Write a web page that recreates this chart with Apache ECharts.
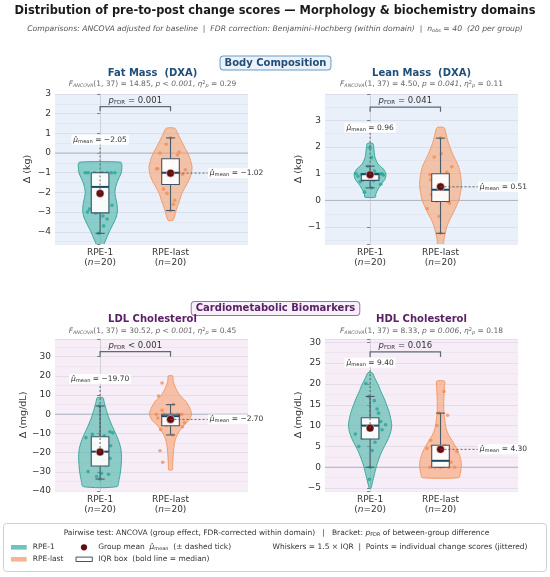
<!DOCTYPE html>
<html><head><meta charset="utf-8">
<script src="https://cdn.jsdelivr.net/npm/echarts@6.0.0/dist/echarts.min.js"></script>
<style>html,body{margin:0;padding:0;background:#fff}#c{width:550px;height:577px}</style>
</head><body><div id="c"></div>
<script>
// ---------------- DATA ----------------
const categories = ['RPE-1', 'RPE-last'];
const groupN = [20, 20];
const panelTitles = ['Fat Mass  (DXA)', 'Lean Mass  (DXA)', 'LDL Cholesterol', 'HDL Cholesterol'];
const yUnits = ['Δ (kg)', 'Δ (kg)', 'Δ (mg/dL)', 'Δ (mg/dL)'];
const domains = ['Body Composition', 'Cardiometabolic Biomarkers'];
const yMin = [-4.62, -1.63, -40, -5.7];
const yMax = [3.0, 3.98, 39.2, 30.8];
const yTickStep = [1, 1, 10, 5];
const fStat = ['14.85', '4.50', '30.52', '8.33'];
const pText = ['< 0.001', '= 0.041', '< 0.001', '= 0.006'];
const etaSq = ['0.29', '0.11', '0.45', '0.18'];
const pFdrText = ['= 0.001', '= 0.041', '< 0.001', '= 0.016'];
const nObs = 40;

// individual change scores (per group)
const fmRpe1 = [-4.08, -3.7, -3.35, -3.2, -3.05, -3.0, -2.85, -2.65, -2.3, -1.9, -1.55, -1.3, -1.1, -1.0, -1.0, -1.0, -1.0, -1.0, -1.0, -1.0];
const fmRpeLast = [-2.92, -2.6, -2.4, -2.05, -1.82, -1.55, -1.2, -1.1, -1.08, -1.0, -1.0, -0.85, -0.8, -0.8, -0.35, -0.1, 0.0, 0.05, 0.45, 0.77];
const lmRpe1 = [0.31, 0.47, 0.6, 0.7, 0.74, 0.76, 0.85, 0.9, 0.95, 0.97, 0.99, 1.0, 1.0, 1.0, 1.0, 1.0, 1.1, 1.28, 1.6, 1.97];
const lmRpeLast = [-1.23, -0.6, -0.31, -0.1, -0.05, -0.03, 0.1, 0.15, 0.22, 0.35, 0.45, 0.6, 0.77, 0.9, 0.96, 1.05, 1.26, 1.62, 1.75, 2.33];
const ldlRpe1 = [-33.8, -32.5, -31.3, -30.8, -29.9, -26.4, -25.5, -24.0, -23.0, -21.0, -18.0, -17.5, -16.4, -15.5, -12.2, -11.2, -10.5, -9.7, -9.1, 4.3];
const ldlRpeLast = [-25.0, -19.0, -10.8, -8.0, -6.5, -5.8, -4.5, -3.5, -2.0, -1.5, -0.4, 0.0, 0.0, 0.0, 0.0, 0.0, 2.0, 5.2, 9.5, 16.3];
const hdlRpe1 = [-2.9, 0.0, 4.0, 5.0, 6.0, 7.0, 7.5, 8.0, 9.0, 9.8, 10.2, 10.5, 11.0, 11.3, 11.5, 13.0, 14.0, 16.0, 17.0, 20.1];
const hdlRpeLast = [0, 0, 0, 0, 0, 0.5, 1.0, 1.2, 1.4, 1.5, 1.6, 3.8, 4.5, 5.0, 5.3, 6.5, 10.0, 12.5, 13.0, 18.2];

// horizontal jitter of each point (category units)
const fmRpe1Jit = [-0.02, 0.05, 0.1, 0.04, -0.06, -0.18, -0.15, 0.17, 0.02, -0.05, 0.08, -0.03, 0.06, -0.21, -0.17, 0.16, 0.21, -0.08, 0.03, 0.1];
const fmRpeLastJit = [0.0, 0.04, 0.06, -0.05, -0.1, 0.07, -0.04, 0.09, 0.17, 0.02, -0.08, 0.21, -0.2, -0.18, 0.05, 0.1, -0.15, 0.12, -0.06, 0.0];
const lmRpe1Jit = [-0.08, 0.02, 0.15, -0.14, 0.05, -0.1, 0.12, -0.17, 0.19, -0.12, 0.14, -0.05, 0.03, 0.09, -0.2, 0.17, 0.06, -0.03, 0.02, 0.0];
const lmRpeLastJit = [0.0, -0.02, -0.19, 0.13, 0.11, -0.05, 0.04, -0.08, -0.13, 0.07, 0.02, 0.1, -0.14, 0.06, -0.15, 0.09, 0.16, -0.09, 0.01, 0.0];
const ldlRpe1Jit = [0.0, -0.05, 0.12, 0.02, -0.17, 0.08, -0.1, 0.05, 0.14, -0.06, 0.1, -0.03, 0.15, -0.08, -0.2, 0.06, -0.11, 0.18, 0.14, -0.01];
const ldlRpeLastJit = [-0.11, -0.15, 0.03, -0.14, 0.17, -0.06, 0.2, 0.08, -0.18, 0.05, 0.13, -0.09, 0.02, -0.2, 0.1, 0.16, -0.12, 0.04, -0.17, -0.12];
const hdlRpe1Jit = [-0.01, 0.0, 0.03, -0.16, 0.07, -0.11, 0.05, -0.21, 0.17, -0.04, 0.22, 0.1, 0.15, -0.08, 0.04, 0.12, 0.1, 0.06, -0.02, -0.06];
const hdlRpeLastJit = [0.0, -0.15, 0.12, 0.2, -0.08, 0.05, -0.1, 0.15, 0.03, -0.05, 0.09, 0.23, -0.19, -0.12, 0.06, -0.14, -0.05, 0.1, -0.02, 0.05];

// box statistics: [whisker low, Q1, median, Q3, whisker high]
const fmBox = [[-4.08, -3.04, -1.72, -1.0, -1.0], [-2.92, -1.6, -1.0, -0.29, 0.77]];
const lmBox = [[0.47, 0.75, 0.98, 1.0, 1.28], [-1.23, -0.04, 0.4, 1.0, 2.33]];
const ldlBox = [[-33.8, -27.0, -19.5, -11.7, 4.3], [-10.8, -6.0, -1.0, 0.0, 5.0]];
const hdlBox = [[0.0, 6.8, 10.0, 11.9, 17.0], [0.0, 0.0, 1.55, 5.3, 13.0]];

// group means
const fmMean = [-2.05, -1.02];
const lmMean = [0.96, 0.51];
const ldlMean = [-19.70, -2.70];
const hdlMean = [9.40, 4.30];

// violin density profiles: [value, half-width in category units]
const fmViolin1 = [[-0.46, 0.29], [-0.6, 0.31], [-1.0, 0.3], [-1.25, 0.27], [-1.5, 0.24], [-1.75, 0.22], [-2.0, 0.21], [-2.25, 0.22], [-2.5, 0.235], [-2.75, 0.245], [-3.0, 0.245], [-3.25, 0.23], [-3.5, 0.2], [-3.75, 0.165], [-4.0, 0.13], [-4.25, 0.1], [-4.5, 0.07], [-4.75, 0.04], [-4.9, 0.02]];
const fmViolin2 = [[1.26, 0.06], [0.97, 0.105], [0.64, 0.15], [0.3, 0.2], [-0.04, 0.25], [-0.38, 0.285], [-0.71, 0.305], [-1.05, 0.295], [-1.39, 0.26], [-1.72, 0.21], [-2.06, 0.16], [-2.4, 0.13], [-2.74, 0.095], [-3.07, 0.067], [-3.41, 0.035]];
const lmViolin1 = [[2.13, 0.04], [1.97, 0.052], [1.61, 0.07], [1.36, 0.113], [1.17, 0.19], [0.98, 0.226], [0.79, 0.21], [0.6, 0.156], [0.42, 0.113], [0.23, 0.08], [0.12, 0.075]];
const lmViolin2 = [[2.72, 0.05], [2.47, 0.08], [2.22, 0.104], [1.97, 0.137], [1.72, 0.175], [1.48, 0.22], [1.23, 0.26], [0.98, 0.283], [0.73, 0.295], [0.48, 0.295], [0.24, 0.28], [0.0, 0.26], [-0.25, 0.22], [-0.5, 0.175], [-0.74, 0.127], [-0.99, 0.09], [-1.24, 0.066], [-1.48, 0.047], [-1.65, 0.04]];
const ldlViolin1 = [[8.6, 0.04], [6, 0.06], [2, 0.09], [-2, 0.125], [-6, 0.17], [-10, 0.22], [-14, 0.265], [-18, 0.295], [-22, 0.305], [-26, 0.3], [-30, 0.29], [-34, 0.27], [-37.7, 0.24]];
const ldlViolin2 = [[20, 0.03], [17, 0.04], [13.5, 0.075], [10, 0.13], [6.6, 0.22], [3.1, 0.275], [0, 0.298], [-3, 0.265], [-5.5, 0.195], [-9, 0.123], [-12.5, 0.075], [-16, 0.052], [-21.2, 0.038], [-26.4, 0.03], [-29, 0.025]];
const hdlViolin1 = [[22.7, 0.03], [21.3, 0.07], [19.7, 0.118], [18.1, 0.156], [16.5, 0.2], [14.9, 0.236], [13.3, 0.27], [11.7, 0.293], [10.1, 0.307], [8.5, 0.293], [6.9, 0.26], [5.3, 0.212], [3.7, 0.165], [2.1, 0.127], [0.5, 0.095], [-1.1, 0.07], [-2.7, 0.047], [-4.3, 0.024], [-5.1, 0.01]];
const hdlViolin2 = [[20.7, 0.055], [19.7, 0.057], [16.5, 0.047], [13.3, 0.047], [11.7, 0.057], [9.3, 0.08], [7.7, 0.118], [6.1, 0.175], [4.5, 0.23], [2.9, 0.27], [1.3, 0.293], [-0.3, 0.293], [-1.5, 0.28], [-2.5, 0.26]];

// ---------------- LAYOUT / STYLE ----------------
const values = [[fmRpe1, fmRpeLast], [lmRpe1, lmRpeLast], [ldlRpe1, ldlRpeLast], [hdlRpe1, hdlRpeLast]];
const jitter = [[fmRpe1Jit, fmRpeLastJit], [lmRpe1Jit, lmRpeLastJit], [ldlRpe1Jit, ldlRpeLastJit], [hdlRpe1Jit, hdlRpeLastJit]];
const boxes = [fmBox, lmBox, ldlBox, hdlBox];
const means = [fmMean, lmMean, ldlMean, hdlMean];
const violins = [[fmViolin1, fmViolin2], [lmViolin1, lmViolin2], [ldlViolin1, ldlViolin2], [hdlViolin1, hdlViolin2]];

const FF = "'DejaVu Sans', sans-serif";
const X_MIN = -0.64, X_MAX = 2.1;
const BOX_HALF = 0.125, CAP_HALF = 0.065;
const grids = [
  {left: 55, top: 94, width: 193, height: 150},
  {left: 325, top: 94, width: 193, height: 150},
  {left: 55, top: 339, width: 193, height: 152},
  {left: 325, top: 339, width: 193, height: 152}
];
const gridBg = ['#eaf0fa', '#eaf0fa', '#f6edf6', '#f6edf6'];
const nameGaps = [22, 20, 26, 21];
const annotAboveY = [0.67, 2.72, 18.4, 25.1];
const annotRightX = 1.53;
const bracketBarY = [2.36, 3.49, 32.6, 27.7];
const bracketLegY = [2.12, 3.32, 30.0, 26.5];
const titleColors = ['#1f4e79', '#5b2168'];
const violinFill = ['rgba(66,180,166,0.58)', 'rgba(247,158,108,0.58)'];
const violinEdge = ['#3aa99b', '#f29c68'];
const pointColor = ['#22a193', '#f08a50'];
const MEAN_COLOR = '#650d0d';

const minus = s => s.replace(/-/g, '\u2212');
const fmtNum = v => (v < 0 ? '\u2212' : '') + Math.abs(v).toFixed(2);

function zeroRender(params, api) {
  const a = api.coord([X_MIN, 0]), b = api.coord([X_MAX, 0]);
  return {type: 'line', shape: {x1: a[0], y1: a[1], x2: b[0], y2: b[1]}, style: {stroke: '#aeb5c2', lineWidth: 1}};
}
function violinRender(p) {
  return function (params, api) {
    const g = api.value(0);
    const prof = violins[p][g];
    const right = prof.map(d => api.coord([g + d[1], d[0]]));
    const left = prof.slice().reverse().map(d => api.coord([g - d[1], d[0]]));
    return {type: 'polygon', shape: {points: right.concat(left), smooth: 0.25},
      style: {fill: violinFill[g], stroke: violinEdge[g], lineWidth: 1}};
  };
}
function boxRender(p) {
  return function (params, api) {
    const g = api.value(0);
    const s = boxes[p][g];
    const c = (x, y) => api.coord([x, y]);
    const ln = (p1, p2, st) => ({type: 'line', shape: {x1: p1[0], y1: p1[1], x2: p2[0], y2: p2[1]}, style: st});
    const ws = {stroke: '#4b5a68', lineWidth: 1.1};
    const a = c(g - BOX_HALF, s[3]), b = c(g + BOX_HALF, s[1]);
    return {type: 'group', children: [
      ln(c(g, s[0]), c(g, s[1]), ws),
      ln(c(g, s[3]), c(g, s[4]), ws),
      ln(c(g - CAP_HALF, s[0]), c(g + CAP_HALF, s[0]), ws),
      ln(c(g - CAP_HALF, s[4]), c(g + CAP_HALF, s[4]), ws),
      {type: 'rect', shape: {x: a[0], y: a[1], width: b[0] - a[0], height: b[1] - a[1]},
        style: {fill: 'rgba(255,255,255,0.93)', stroke: '#3e5567', lineWidth: 1.1}},
      ln(c(g - BOX_HALF, s[2]), c(g + BOX_HALF, s[2]), {stroke: '#1b4965', lineWidth: 2})
    ]};
  };
}
const muRich = {
  m: {fontSize: 7.5, fontStyle: 'italic', fontFamily: FF, fill: '#333'},
  s: {fontSize: 5.2, fontFamily: FF, fill: '#333', verticalAlign: 'bottom'}
};
function annotRender(p) {
  return function (params, api) {
    const m = means[p];
    const dash = {stroke: '#555', lineWidth: 0.9, lineDash: [2, 2]};
    const a0 = api.coord([0, m[0]]), a1 = api.coord([0, annotAboveY[p]]);
    const b0 = api.coord([1, m[1]]), b1 = api.coord([annotRightX, m[1]]);
    const lbl = (pt, v, align) => ({type: 'text', z2: 10, style: {
      x: pt[0], y: pt[1], text: '{m|μ\u0302}{s|mean} = ' + fmtNum(v), rich: muRich,
      fontSize: 7.5, fontFamily: FF, fill: '#333', align: align, verticalAlign: 'middle',
      backgroundColor: 'rgba(255,255,255,0.92)', padding: [1, 2, 1, 2]}});
    return {type: 'group', children: [
      {type: 'line', shape: {x1: a0[0], y1: a0[1], x2: a1[0], y2: a1[1]}, style: dash},
      {type: 'line', shape: {x1: b0[0], y1: b0[1], x2: b1[0], y2: b1[1]}, style: dash},
      lbl(a1, m[0], 'center'),
      lbl(b1, m[1], 'left')
    ]};
  };
}
function bracketRender(p) {
  return function (params, api) {
    const l0 = api.coord([0, bracketLegY[p]]), l1 = api.coord([0, bracketBarY[p]]);
    const r1 = api.coord([1, bracketBarY[p]]), r0 = api.coord([1, bracketLegY[p]]);
    const mid = api.coord([0.5, bracketBarY[p]]);
    return {type: 'group', children: [
      {type: 'polyline', shape: {points: [l0, l1, r1, r0]}, style: {stroke: '#5d6975', lineWidth: 1.2, fill: null}},
      {type: 'text', style: {x: mid[0], y: mid[1] - 1.5, align: 'center', verticalAlign: 'bottom',
        text: '{p|p}{s|FDR} ' + pFdrText[p], fontSize: 8.5, fontFamily: FF, fill: '#333',
        rich: {p: {fontSize: 8.5, fontStyle: 'italic', fontFamily: FF, fill: '#333'},
               s: {fontSize: 5.5, fontFamily: FF, fill: '#333', verticalAlign: 'bottom'}}}}
    ]};
  };
}

const xAxes = [], yAxes = [], series = [];
grids.forEach((gr, p) => {
  xAxes.push({type: 'value', gridIndex: p, min: X_MIN, max: X_MAX, minInterval: 1, maxInterval: 1,
    axisLine: {show: false}, axisTick: {show: false}, splitLine: {show: false},
    axisLabel: {fontSize: 9, color: '#333', fontFamily: FF, lineHeight: 10.5, margin: 3,
      showMinLabel: false, showMaxLabel: false,
      formatter: v => {
        const g = Math.round(v);
        if (Math.abs(v - g) < 1e-6 && g >= 0 && g < categories.length) return categories[g] + '\n({i|n}=' + groupN[g] + ')';
        return '';
      },
      rich: {i: {fontStyle: 'italic', fontSize: 9, color: '#333', fontFamily: FF, lineHeight: 10.5}}}});
  const step = yTickStep[p];
  yAxes.push({type: 'value', gridIndex: p, min: yMin[p], max: yMax[p], minInterval: step, maxInterval: step,
    name: yUnits[p], nameLocation: 'middle', nameGap: nameGaps[p],
    nameTextStyle: {fontSize: 9.5, color: '#333', fontFamily: FF},
    axisLine: {show: true, lineStyle: {color: '#c4c9d2', width: 0.8}},
    axisTick: {show: true, length: 3, lineStyle: {color: '#666', width: 0.8}},
    axisLabel: {fontSize: 9, color: '#333', fontFamily: FF, margin: 4,
      formatter: v => (Math.abs(v / step - Math.round(v / step)) < 1e-6 ? minus(String(Math.round(v))) : '')},
    splitLine: {show: true, lineStyle: {color: 'rgba(130,140,165,0.2)', width: 0.8}},
    minorTick: {show: false, splitNumber: 2},
    minorSplitLine: {show: true, lineStyle: {color: 'rgba(130,140,165,0.11)', width: 0.7}}});
  const ax = {xAxisIndex: p, yAxisIndex: p};
  series.push({type: 'custom', ...ax, z: 1, silent: true, clip: true, data: [[0, 0]], renderItem: zeroRender});
  series.push({type: 'custom', ...ax, z: 2, silent: true, clip: true, data: [[0, 0], [1, 0]], renderItem: violinRender(p)});
  [0, 1].forEach(g => series.push({type: 'scatter', ...ax, z: 3, silent: true, symbolSize: 3.6,
    itemStyle: {color: pointColor[g], opacity: 0.75},
    data: values[p][g].map((v, i) => [g + jitter[p][g][i], v])}));
  series.push({type: 'custom', ...ax, z: 4, silent: true, data: [[0, 0], [1, 0]], renderItem: boxRender(p)});
  series.push({type: 'scatter', ...ax, z: 5, silent: true, symbolSize: 8,
    itemStyle: {color: MEAN_COLOR, borderColor: '#fff', borderWidth: 0.5, opacity: 1},
    data: means[p].map((m, g) => [g, m])});
  series.push({type: 'custom', ...ax, z: 6, silent: true, clip: false, data: [[0, 0]], renderItem: annotRender(p)});
  series.push({type: 'custom', ...ax, z: 6, silent: true, clip: false, data: [[0, 0]], renderItem: bracketRender(p)});
});

// texts
const statRich = {
  i: {fontStyle: 'italic', fontSize: 7.5, fontFamily: FF, fill: '#666'},
  s: {fontStyle: 'italic', fontSize: 4.8, fontFamily: FF, fill: '#666', verticalAlign: 'bottom'},
  u: {fontSize: 5, fontFamily: FF, fill: '#666', verticalAlign: 'top'},
  sp: {fontStyle: 'italic', fontSize: 5, fontFamily: FF, fill: '#666', verticalAlign: 'bottom'}
};
const graphic = [];
const txt = (x, y, text, extra) => ({type: 'text', silent: true, z: 100, style: Object.assign({x: x, y: y, text: text, fontFamily: FF, align: 'center', verticalAlign: 'middle'}, extra)});
graphic.push(txt(275, 11.5, 'Distribution of pre-to-post change scores \u2014 Morphology & biochemistry domains', {fontSize: 11.4, fontWeight: 'bold', fill: '#1a1a1a'}));
graphic.push(txt(275, 29.5, 'Comparisons: ANCOVA adjusted for baseline  |  FDR correction: Benjamini\u2013Hochberg (within domain)  |  {i|n}{s|obs} = ' + nObs + '  (' + groupN[0] + ' per group)',
  {fontSize: 7.7, fontStyle: 'italic', fill: '#555', rich: {i: {fontStyle: 'italic', fontSize: 7.7, fontFamily: FF, fill: '#555'}, s: {fontStyle: 'italic', fontSize: 5, fontFamily: FF, fill: '#555', verticalAlign: 'bottom'}}}));
const domainY = [63, 308.5];
const domainBg = ['#edf2fa', '#f8f0f9'];
const domainBorder = ['#6b9ac4', '#9b72a8'];
domains.forEach((d, k) => graphic.push(txt(275.5, domainY[k], d, {fontSize: 10, fontWeight: 'bold', fill: titleColors[k],
  backgroundColor: domainBg[k], borderColor: domainBorder[k], borderWidth: 1, borderRadius: 3, padding: [2, 4, 1, 4]})));
const titleX = [152.5, 421.5, 152.5, 421.5];
const titleY = [73.5, 73.5, 319.5, 319.5];
const statY = [84.5, 84.5, 331, 331];
panelTitles.forEach((t, p) => {
  graphic.push(txt(titleX[p], titleY[p], t, {fontSize: 10, fontWeight: 'bold', fill: titleColors[p < 2 ? 0 : 1]}));
  graphic.push(txt(titleX[p], statY[p], '{i|F}{s|ANCOVA}(1, 37) = ' + fStat[p] + ', {i|p ' + pText[p] + '}, {i|η}{u|2}{sp|p} = ' + etaSq[p],
    {fontSize: 7.5, fill: '#666', rich: statRich}));
});
// legend
graphic.push({type: 'rect', silent: true, z: 90, shape: {x: 3.5, y: 523.5, width: 543, height: 48, r: 3}, style: {fill: '#fff', stroke: '#cfcfcf', lineWidth: 1}});
const legRich = {
  i: {fontStyle: 'italic', fontSize: 7.5, fontFamily: FF, fill: '#333'},
  s: {fontSize: 5, fontFamily: FF, fill: '#333', verticalAlign: 'bottom'}
};
graphic.push(txt(276.5, 533, 'Pairwise test: ANCOVA (group effect, FDR-corrected within domain)   |   Bracket: {i|p}{s|FDR} of between-group difference', {fontSize: 7.5, fill: '#333', rich: legRich}));
const legRowY = [547.3, 559.3];
const legPatch = ['#6cc5bb', '#f9b48b'];
categories.forEach((c, g) => {
  graphic.push({type: 'rect', silent: true, z: 100, shape: {x: 11, y: legRowY[g] - 2.3, width: 15.7, height: 4.6}, style: {fill: legPatch[g]}});
  graphic.push(txt(32.7, legRowY[g], c, {fontSize: 7.5, fill: '#333', align: 'left'}));
});
graphic.push({type: 'circle', silent: true, z: 100, shape: {cx: 84, cy: legRowY[0], r: 3.1}, style: {fill: MEAN_COLOR}});
graphic.push(txt(98.3, legRowY[0], 'Group mean  {m|μ\u0302}{s|mean}  (\u00b1 dashed tick)', {fontSize: 7.5, fill: '#333', align: 'left', rich: {m: {fontStyle: 'italic', fontSize: 7.5, fontFamily: FF, fill: '#333'}, s: {fontSize: 5, fontFamily: FF, fill: '#333', verticalAlign: 'bottom'}}}));
graphic.push(txt(272.6, legRowY[0], 'Whiskers = 1.5 \u00d7 IQR  |  Points = individual change scores (jittered)', {fontSize: 7.5, fill: '#333', align: 'left'}));
graphic.push({type: 'rect', silent: true, z: 100, shape: {x: 76, y: legRowY[1] - 2.2, width: 16.3, height: 4.4}, style: {fill: '#fff', stroke: '#3e5567', lineWidth: 1}});
graphic.push(txt(98.3, legRowY[1], 'IQR box  (bold line = median)', {fontSize: 7.5, fill: '#333', align: 'left'}));

const chart = echarts.init(document.getElementById('c'), null, {renderer: 'canvas'});
chart.setOption({
  backgroundColor: '#ffffff',
  animation: false,
  textStyle: {fontFamily: FF},
  grid: grids.map((g, p) => Object.assign({show: true, backgroundColor: gridBg[p], borderWidth: 0, containLabel: false, outerBoundsMode: 'none'}, g)),
  xAxis: xAxes,
  yAxis: yAxes,
  series: series,
  graphic: graphic
});
</script></body></html>
